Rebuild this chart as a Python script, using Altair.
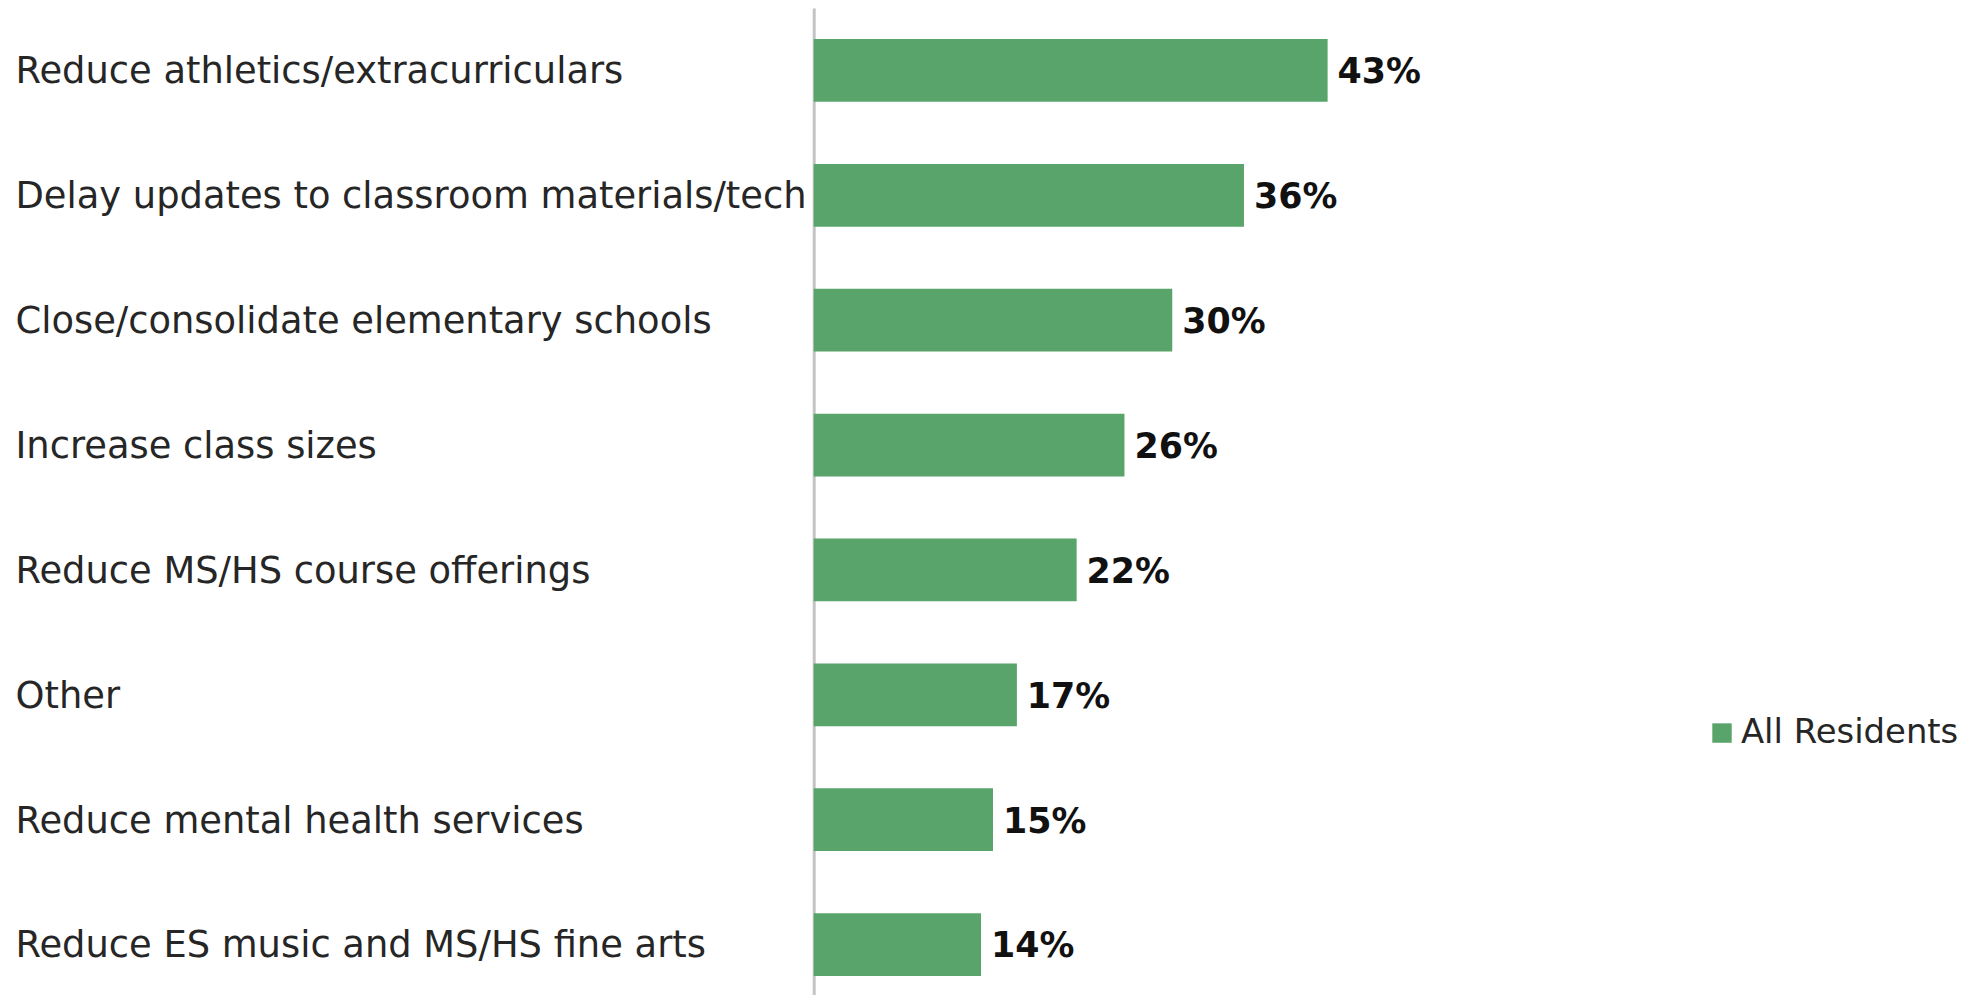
import altair as alt
import pandas as pd

categories = [
    "Reduce athletics/extracurriculars",
    "Delay updates to classroom materials/tech",
    "Close/consolidate elementary schools",
    "Increase class sizes",
    "Reduce MS/HS course offerings",
    "Other",
    "Reduce mental health services",
    "Reduce ES music and MS/HS fine arts",
]
values = [43, 36, 30, 26, 22, 17, 15, 14]
series = ["All Residents"] * len(categories)
labels = [f"{v}%" for v in values]

df = pd.DataFrame({"category": categories, "value": values,
                   "series": series, "label": labels})

GREEN = "#58A46B"
FONT = "DejaVu Sans"

base = alt.Chart(df).encode(
    y=alt.Y("category:N", sort=categories, title=None,
            scale=alt.Scale(paddingInner=0.5, paddingOuter=0.25, range=[-2, 1001]),
            axis=alt.Axis(domain=True, domainColor="#C4C4C4", domainWidth=3,
                          ticks=False, grid=False, labelAlign="left",
                          labelPadding=802, labelOffset=2, labelFont=FONT,
                          labelFontSize=37, labelColor="#262626", labelLimit=0)),
    x=alt.X("value:Q", scale=alt.Scale(domain=[0, 95]), axis=None),
)

bars = base.mark_bar(size=63).encode(
    color=alt.Color("series:N", scale=alt.Scale(range=[GREEN]),
                    legend=alt.Legend(title=None, orient="none", legendX=895, legendY=709,
                                      symbolType="square", symbolSize=380,
                                      symbolStrokeWidth=0, labelFont=FONT,
                                      labelFontSize=34, labelColor="#262626",
                                      labelOffset=2, labelLimit=0, padding=0)),
)

text = base.mark_text(align="left", baseline="middle", dx=10, dy=2, font=FONT,
                      fontSize=35, fontWeight="bold", color="#111111").encode(
    text="label:N")

chart = (bars + text).properties(
    width=1140, height=987,
    autosize=alt.AutoSizeParams(type="none"),
    padding={"left": 809, "top": 0, "right": 20, "bottom": 0},
).configure_view(stroke=None)

chart.save("out.html", embed_options={"renderer": "svg", "actions": False})
